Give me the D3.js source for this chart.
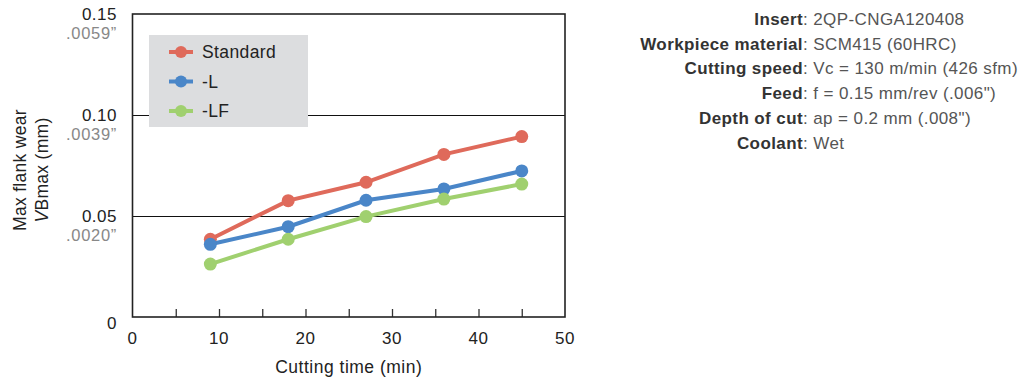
<!DOCTYPE html>
<html>
<head>
<meta charset="utf-8">
<script src="https://cdn.jsdelivr.net/npm/d3@7"></script>
<style>
  body { margin: 0; background: #fff; }
  svg { font-family: "Liberation Sans", Arial, Helvetica, sans-serif; }
</style>
</head>
<body>
<div id="chart"></div>
<script>
// data
var times = [9, 18, 27, 36, 45]
var standard = [0.0385, 0.0576, 0.0667, 0.0805, 0.0893]
var seriesL = [0.036, 0.0447, 0.0578, 0.0634, 0.0723]
var seriesLF = [0.0262, 0.0385, 0.0497, 0.0584, 0.0658]
var seriesNames = ['Standard', '-L', '-LF']
var yTicks = [0, 0.05, 0.10, 0.15]
var yTickLabels = ['0', '0.05', '0.10', '0.15']
var yInchLabels = ['', '.0020\u201d', '.0039\u201d', '.0059\u201d']
var xTicks = [0, 10, 20, 30, 40, 50]
var conditionLabels = ['Insert', 'Workpiece material', 'Cutting speed', 'Feed', 'Depth of cut', 'Coolant']
var conditionValues = ['2QP-CNGA120408', 'SCM415 (60HRC)', 'Vc = 130 m/min (426 sfm)', 'f = 0.15 mm/rev (.006")', 'ap = 0.2 mm (.008")', 'Wet']

var colors = ['#df6a5b', '#4a86c8', '#a0d06f']
var allSeries = [standard, seriesL, seriesLF]

var svg = d3.select('#chart').append('svg').attr('width', 1025).attr('height', 380)

var x = d3.scaleLinear().domain([0, 50]).range([132.5, 565])
var y = d3.scaleLinear().domain([0, 0.15]).range([317, 14])

// gridlines
svg.append('g').selectAll('line')
   .data([0.05, 0.10]).enter()
   .append('line')
   .attr('x1', x(0)).attr('x2', x(50))
   .attr('y1', function(d) { return Math.round(y(d)) + 0.5 }).attr('y2', function(d) { return Math.round(y(d)) + 0.5 })
   .attr('stroke', '#111').attr('stroke-width', 1)

// legend box (drawn over the gridline like the original)
var legend = svg.append('g')
legend.append('rect').attr('x', 149).attr('y', 35).attr('width', 159).attr('height', 92).attr('fill', '#dcdddf')
seriesNames.forEach(function(name, i) {
    var ly = 52 + i * 29.5
    legend.append('line').attr('x1', 169).attr('x2', 193).attr('y1', ly).attr('y2', ly)
          .attr('stroke', colors[i]).attr('stroke-width', 4)
    legend.append('circle').attr('cx', 181).attr('cy', ly).attr('r', 6).attr('fill', colors[i])
    legend.append('text').attr('x', 202).attr('y', ly + 6).attr('font-size', 17.5)
          .attr('letter-spacing', 0.4).attr('fill', '#222').text(name)
})

// x axis ticks (inward minor ticks every 5)
var xAxis = d3.axisBottom(x).tickValues(d3.range(5, 50, 5)).tickSize(-8).tickFormat('')
svg.append('g').attr('transform', 'translate(0,' + y(0) + ')').call(xAxis)
   .call(function(g) { g.select('.domain').remove() })
   .selectAll('line').attr('stroke', '#333').attr('stroke-width', 1.3)

svg.append('g').selectAll('text')
   .data(xTicks).enter()
   .append('text')
   .attr('x', function(d) { return x(d) }).attr('y', 344)
   .attr('text-anchor', 'middle').attr('font-size', 17).attr('letter-spacing', 0.5).attr('fill', '#222')
   .text(function(d) { return d })

// y tick labels
yTicks.forEach(function(v, i) {
    svg.append('text').attr('x', 117).attr('y', i === 0 ? y(v) + 12 : y(v) + 6)
       .attr('text-anchor', 'end').attr('font-size', 17).attr('letter-spacing', 0.5).attr('fill', '#222').text(yTickLabels[i])
    if (yInchLabels[i]) {
        svg.append('text').attr('x', 117).attr('y', y(v) + 25)
           .attr('text-anchor', 'end').attr('font-size', 16.5).attr('letter-spacing', 0.7).attr('fill', '#888').text(yInchLabels[i])
    }
})

// frame
svg.append('rect').attr('x', x(0)).attr('y', y(0.15)).attr('width', x(50) - x(0)).attr('height', y(0) - y(0.15))
   .attr('fill', 'none').attr('stroke', '#222').attr('stroke-width', 1.6)

// series
var line = d3.line().x(function(d, i) { return x(times[i]) }).y(function(d) { return y(d) })
allSeries.forEach(function(s, k) {
    svg.append('path').datum(s).attr('d', line).attr('fill', 'none')
       .attr('stroke', colors[k]).attr('stroke-width', 4)
    svg.append('g').selectAll('circle').data(s).enter()
       .append('circle')
       .attr('cx', function(d, i) { return x(times[i]) })
       .attr('cy', function(d) { return y(d) })
       .attr('r', 6.5).attr('fill', colors[k])
})

// axis titles
svg.append('text').attr('x', x(25)).attr('y', 373).attr('text-anchor', 'middle')
   .attr('font-size', 17.5).attr('letter-spacing', 0.5).attr('fill', '#222').text('Cutting time (min)')
var yt = svg.append('g').attr('transform', 'translate(0,170) rotate(-90)')
yt.append('text').attr('x', 0).attr('y', 26).attr('text-anchor', 'middle')
  .attr('font-size', 17.5).attr('letter-spacing', 0.3).attr('fill', '#222').text('Max flank wear')
var yt2 = yt.append('text').attr('x', 0).attr('y', 48).attr('text-anchor', 'middle')
  .attr('font-size', 17.5).attr('letter-spacing', 0.3).attr('fill', '#222')
yt2.append('tspan').attr('font-style', 'italic').text('V')
yt2.append('tspan').text('Bmax (mm)')

// test conditions
var cond = svg.append('g').attr('font-size', 17).attr('letter-spacing', 0.4)
conditionLabels.forEach(function(lab, i) {
    var t = cond.append('text').attr('x', 803).attr('y', 25 + i * 24.7).attr('text-anchor', 'end')
    t.append('tspan').attr('font-weight', 'bold').attr('fill', '#333').text(lab)
    cond.append('text').attr('x', 803).attr('y', 25 + i * 24.7).attr('fill', '#555').text(': ' + conditionValues[i])
})
</script>
</body>
</html>
